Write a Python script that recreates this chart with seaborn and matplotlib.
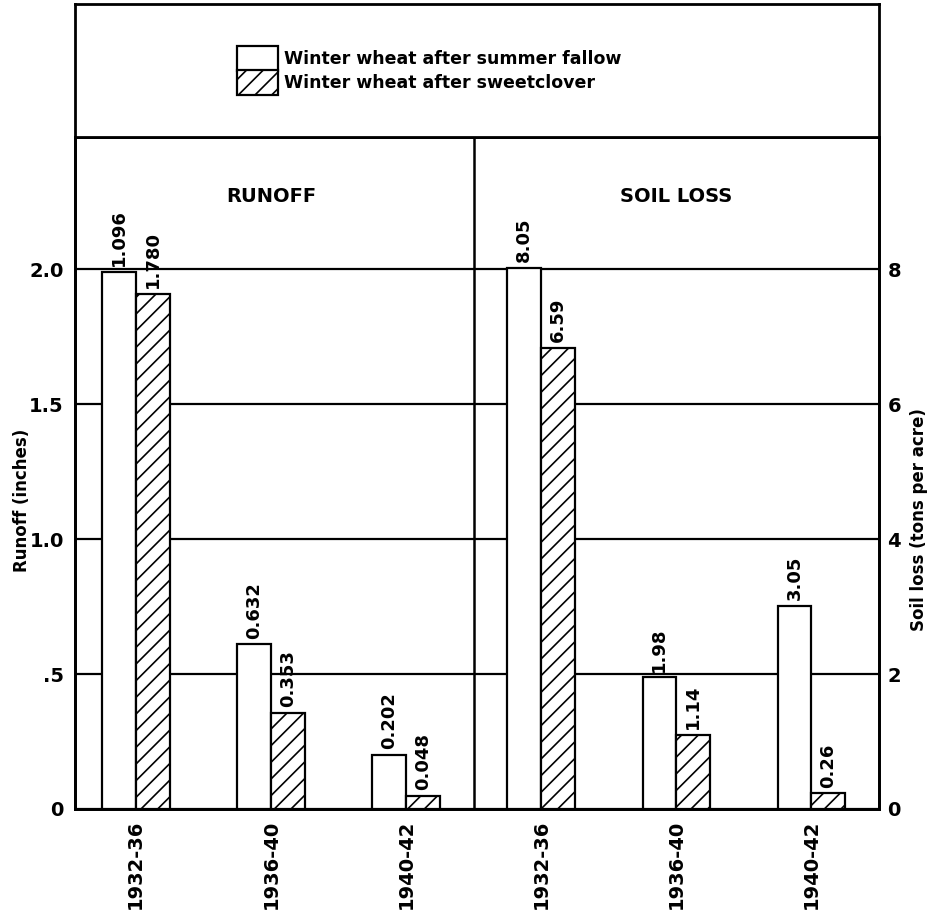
import pandas as pd
import numpy as np
import matplotlib
matplotlib.use('Agg')
import matplotlib.pyplot as plt
from matplotlib.patches import Patch
import seaborn as sns

periods = ['1932-36', '1936-40', '1940-42']
crops = ['Winter wheat after summer fallow', 'Winter wheat after sweetclover']

# bar heights as drawn (printed numbers don't always agree with the bars)
runoff_fallow = [1.99, 0.61, 0.20]
runoff_clover = [1.91, 0.356, 0.049]
soil_fallow = [8.02, 1.95, 3.01]
soil_clover = [6.84, 1.10, 0.23]

# numbers printed above the bars
runoff_fallow_txt = ['1.096', '0.632', '0.202']
runoff_clover_txt = ['1.780', '0.353', '0.048']
soil_fallow_txt = ['8.05', '1.98', '3.05']
soil_clover_txt = ['6.59', '1.14', '0.26']

runoff_ticks = [0, 0.5, 1.0, 1.5, 2.0]
runoff_ticklabels = ['0', '.5', '1.0', '1.5', '2.0']
soil_ticks = [0, 2, 4, 6, 8]
soil_ticklabels = ['0', '2', '4', '6', '8']

slots = ['runoff ' + p for p in periods] + ['soil ' + p for p in periods]


def make_df(prefix, fallow, clover):
    return pd.DataFrame({
        'slot': [prefix + ' ' + p for p in periods] * 2,
        'crop': [crops[0]] * 3 + [crops[1]] * 3,
        'value': fallow + clover,
    })


def style_bars(ax, fallow_txt, clover_txt):
    bars = sorted([p for p in ax.patches if p.get_height() > 0], key=lambda p: p.get_x())
    labels = [t for pair in zip(fallow_txt, clover_txt) for t in pair]
    for i, (bar, txt) in enumerate(zip(bars, labels)):
        if i % 2 == 1:
            bar.set_hatch('//')
        ax.annotate(txt, (bar.get_x() + bar.get_width() / 2, bar.get_height()),
                    xytext=(0, 4), textcoords='offset points', rotation=90,
                    ha='center', va='bottom', fontsize=13, fontweight='bold')


sns.set_theme(style='white', rc={
    'axes.edgecolor': 'black', 'text.color': 'black', 'axes.labelcolor': 'black',
    'xtick.color': 'black', 'ytick.color': 'black'})
plt.rcParams['font.family'] = ['DejaVu Sans']
plt.rcParams['font.weight'] = 'bold'
plt.rcParams['hatch.linewidth'] = 1.2

runoff_df = make_df('runoff', runoff_fallow, runoff_clover)
soil_df = make_df('soil', soil_fallow, soil_clover)

fig = plt.figure(figsize=(9.35, 9.19), dpi=100)
ax = fig.add_axes([75 / 935, 1 - 809 / 919, 804 / 935, 672 / 919])
ax2 = ax.twinx()
legax = fig.add_axes([75 / 935, 1 - 137 / 919, 804 / 935, 133 / 919])

bar_kw = dict(x='slot', y='value', hue='crop', order=slots, hue_order=crops,
              palette=['white', 'white'], saturation=1, edgecolor='black',
              linewidth=1.6, width=0.5, errorbar=None, legend=False)
sns.barplot(data=runoff_df, ax=ax, **bar_kw)
sns.barplot(data=soil_df, ax=ax2, **bar_kw)

style_bars(ax, runoff_fallow_txt, runoff_clover_txt)
style_bars(ax2, soil_fallow_txt, soil_clover_txt)

ax.set_ylim(0, 2.49)
ax2.set_ylim(0, 2.49 * 4)
ax.set_xlim(-0.45, 5.5)

ax.set_yticks(runoff_ticks)
ax.set_yticklabels(runoff_ticklabels)
ax2.set_yticks(soil_ticks)
ax2.set_yticklabels(soil_ticklabels)
ax.set_xticks(range(len(slots)))
ax.set_xticklabels(periods * 2, rotation=90)

ax.tick_params(axis='y', length=0, pad=8, labelsize=14)
ax2.tick_params(axis='y', length=0, pad=6, labelsize=14)
ax.tick_params(axis='x', length=0, pad=8, labelsize=14)

ax.yaxis.grid(True, color='black', linewidth=1.6)
ax.xaxis.grid(False)
ax2.grid(False)
ax.set_axisbelow(True)

ax.axvline(2.5, color='black', linewidth=1.8)
ax.text(1, 2.27, 'RUNOFF', ha='center', va='center', fontsize=14, fontweight='bold')
ax.text(4, 2.27, 'SOIL LOSS', ha='center', va='center', fontsize=14, fontweight='bold')

ax.set_xlabel('')
ax.set_ylabel('Runoff (inches)', fontsize=12, fontweight='bold')
ax.yaxis.set_label_coords(-0.055, 0.46)
ax2.set_xlabel('')
ax2.set_ylabel('Soil loss (tons per acre)', fontsize=12, fontweight='bold')
ax2.yaxis.set_label_coords(1.038, 0.43)

for a in (ax, ax2, legax):
    for sp in a.spines.values():
        sp.set_visible(True)
        sp.set_color('black')
        sp.set_linewidth(2)

legax.set_xticks([])
legax.set_yticks([])
handles = [Patch(facecolor='white', edgecolor='black', linewidth=1.6),
           Patch(facecolor='white', edgecolor='black', linewidth=1.6, hatch='//')]
legax.legend(handles, crops, loc='center', bbox_to_anchor=(0.44, 0.5),
             frameon=False, fontsize=12.5, handlelength=2.4, handleheight=1.8,
             labelspacing=0, handletextpad=0.3)

fig.savefig('out.png', dpi=100)
